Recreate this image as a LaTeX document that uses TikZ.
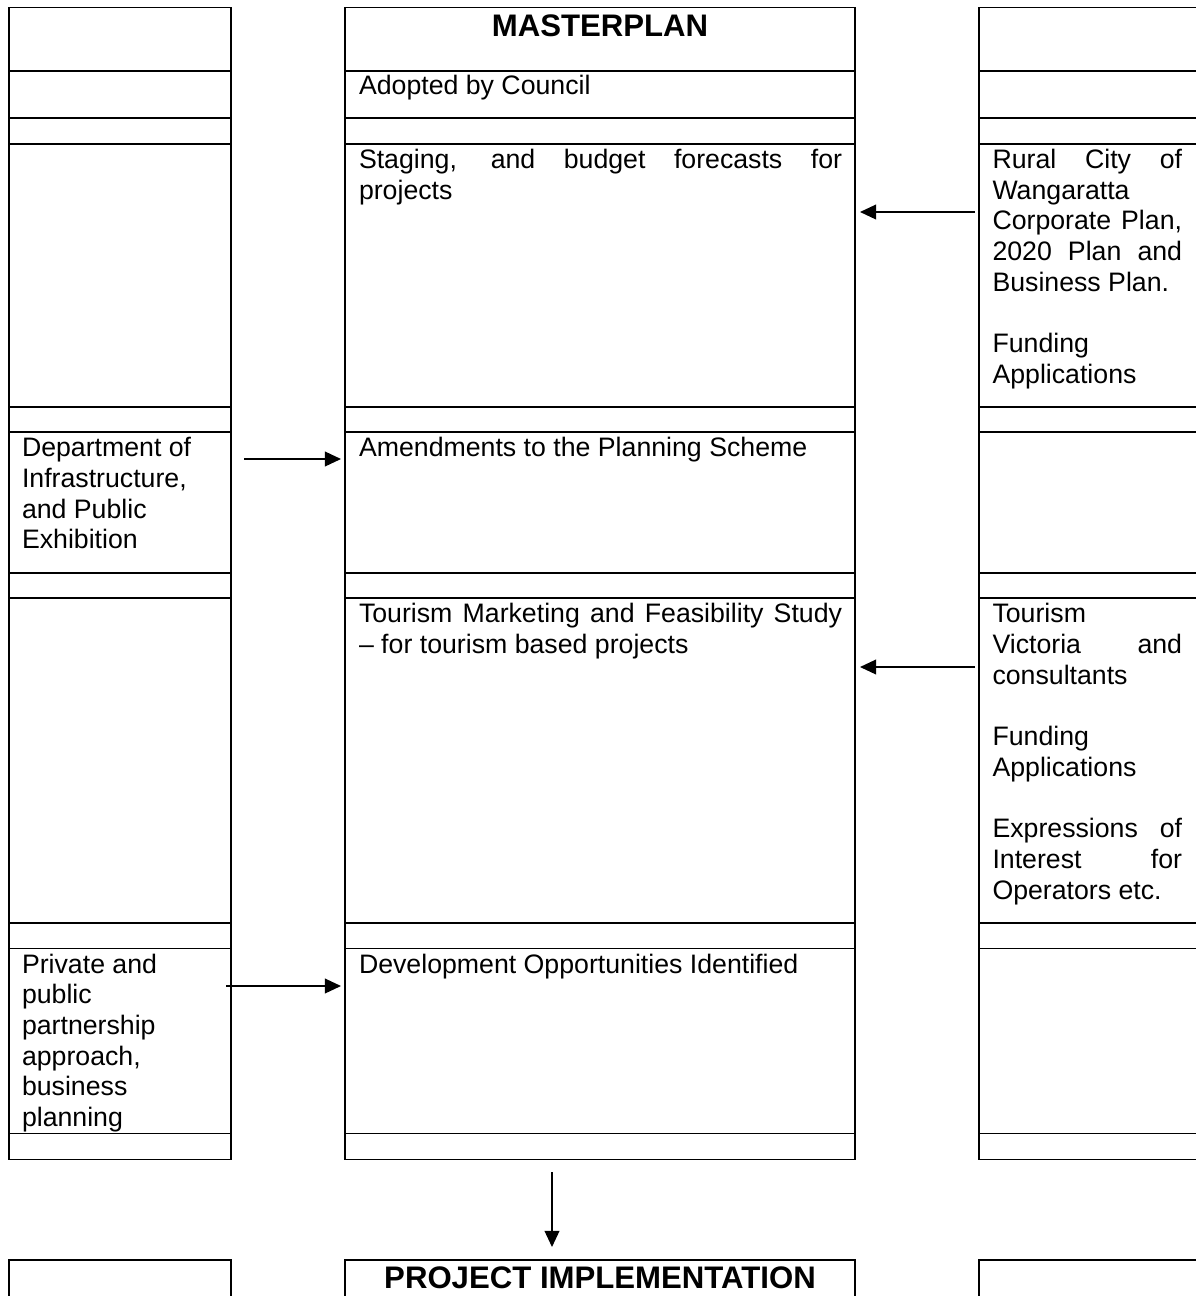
\documentclass[tikz,border=0pt]{standalone}
\usepackage{fontspec}
\setmainfont{Liberation Sans}
\usetikzlibrary{arrows.meta}
\newcommand{\tp}{\rule{0pt}{9.66pt}}
\newcommand{\jm}[1]{\makebox[217.1pt][s]{#1}}
\newcommand{\jr}[1]{\makebox[85.2pt][s]{#1}}
\begin{document}
\begin{tikzpicture}[x=0.4494pt,y=-0.4494pt,
  grid/.style={line width=0.75pt, line cap=rect},
  conn/.style={line width=0.65pt, -{Triangle[length=7.2pt,width=6.6pt]}},
  txt/.style={anchor=north west, inner sep=0pt, outer sep=0pt, align=left,
    font=\fontsize{12pt}{13.8pt}\selectfont},
  head/.style={anchor=base, inner sep=0pt, font=\fontsize{14pt}{16pt}\selectfont\bfseries}]
\useasboundingbox (0,0) rectangle (1195,1296);
% table columns
\foreach \a/\b in {9/231,345/855,979/1215} {
  \draw[grid] (\a,7.5) rectangle (\b,1159.5);
  \foreach \yy in {70.7,118.3,144,406.7,432.3,572.7,598.3,922.7,948.5,1133.5}
    \draw[grid] (\a,\yy) -- (\b,\yy);
  \draw[grid] (\a,1310) -- (\a,1260) -- (\b,1260) -- (\b,1310);
}
% texts
\node[head] (mp) at (600,36) {MASTERPLAN};
\node[txt] (adopt) at (359,73.5) {\tp Adopted by Council};
\node[txt] (stage) at (359,147) {\tp\jm{Staging, and budget forecasts for}\\projects};
\node[txt] (rural) at (992.5,147) {\tp\jr{Rural City of}\\Wangaratta\\\jr{Corporate Plan,}\\\jr{2020 Plan and}\\Business Plan.\\[13.8pt]Funding\\Applications};
\node[txt] (dept) at (22,435.3) {\tp Department of\\Infrastructure,\\and Public\\Exhibition};
\node[txt] (amend) at (359,435.3) {\tp Amendments to the Planning Scheme};
\node[txt] (tms) at (359,601.2) {\tp\jm{Tourism Marketing and Feasibility Study}\\– for tourism based projects};
\node[txt] (tv) at (992.5,601.2) {\tp Tourism\\\jr{Victoria and}\\consultants\\[13.8pt]Funding\\Applications\\[13.8pt]\jr{Expressions of}\\\jr{Interest for}\\Operators etc.};
\node[txt] (priv) at (22,951.5) {\tp Private and\\public\\partnership\\approach,\\business\\planning};
\node[txt] (dev) at (359,951.5) {\tp Development Opportunities Identified};
\node[head] (pi) at (600,1288) {PROJECT IMPLEMENTATION};
% connector ends
\coordinate (a1s) at (975,212);  \coordinate (a1e) at (860,212);
\coordinate (a2s) at (244,459);  \coordinate (a2e) at (341,459);
\coordinate (a3s) at (975,667);  \coordinate (a3e) at (860,667);
\coordinate (a4s) at (226,986);  \coordinate (a4e) at (341,986);
\coordinate (a5s) at (552,1172); \coordinate (a5e) at (552,1247);
\draw[conn] (a1s) -- (a1e);
\draw[conn] (a2s) -- (a2e);
\draw[conn] (a3s) -- (a3e);
\draw[conn] (a4s) -- (a4e);
\draw[conn] (a5s) -- (a5e);
\end{tikzpicture}
\end{document}
